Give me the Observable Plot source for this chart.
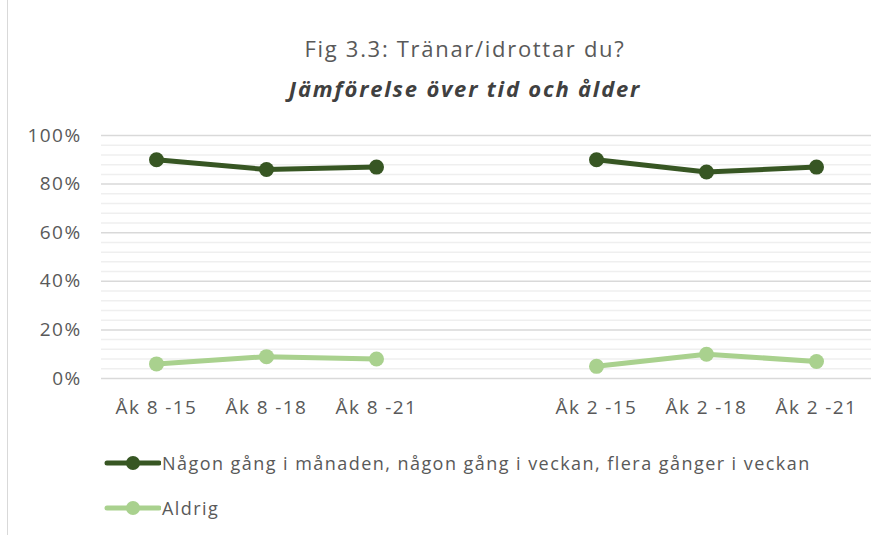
<!DOCTYPE html>
<html>
<head>
<meta charset="utf-8">
<script src="https://cdn.jsdelivr.net/npm/d3@7"></script>
<script src="https://cdn.jsdelivr.net/npm/@observablehq/plot@0.6"></script>
<style>
  html, body { margin: 0; padding: 0; background: #fff; }
  #wrap { position: relative; width: 890px; height: 535px; overflow: hidden; font-family: "Open Sans", Lato, sans-serif; color: #595959; }
  #frame { position: absolute; left: 7px; top: 0; width: 0; height: 535px; border-left: 1.5px solid #d9d9d9; }
  #title { position: absolute; left: 0; width: 930px; top: 33px; text-align: center; font-size: 22px; letter-spacing: 1.7px; line-height: 30px; color: #595959; }
  #subtitle { position: absolute; left: 0; width: 930px; top: 73px; text-align: center; font-size: 22px; letter-spacing: 1.8px; line-height: 30px; font-weight: bold; font-style: italic; color: #404040; }
  #chart { position: absolute; left: 0; top: 110px; }
  .leg { position: absolute; left: 104px; display: flex; align-items: center; font-size: 18px; letter-spacing: 1.45px; color: #595959; }
  .leg svg { margin-right: 1px; }
</style>
</head>
<body>
<div id="wrap">
  <div id="frame"></div>
  <div id="title"></div>
  <div id="subtitle"></div>
  <div id="chart"></div>
  <div id="legend"></div>
</div>
<script>
const titleText = "Fig 3.3: Tränar/idrottar du?";
const subtitleText = "Jämförelse över tid och ålder";
const categories = ["Åk 8 -15", "Åk 8 -18", "Åk 8 -21", " ", "Åk 2 -15", "Åk 2 -18", "Åk 2 -21"];
const seriesNames = ["Någon gång i månaden, någon gång i veckan, flera gånger i veckan", "Aldrig"];
const seriesColors = ["#375623", "#a9d18e"];
const activeValues = [90, 86, 87, null, 90, 85, 87];
const neverValues = [6, 9, 8, null, 5, 10, 7];
const yTicks = [0, 20, 40, 60, 80, 100];
const yMinorTicks = d3.range(0, 101, 4).filter(v => v % 20 !== 0);

document.getElementById("title").textContent = titleText;
document.getElementById("subtitle").textContent = subtitleText;

const data = [];
[activeValues, neverValues].forEach((vals, si) => {
  vals.forEach((v, i) => data.push({ series: seriesNames[si], cat: categories[i], value: v == null ? NaN : v }));
});
const pts = data.filter(d => !isNaN(d.value));

const plot = Plot.plot({
  width: 890,
  height: 310,
  marginLeft: 101,
  marginRight: 19,
  marginTop: 25,
  marginBottom: 42,
  style: { fontFamily: "'Open Sans', Lato, sans-serif", fontSize: "19px", letterSpacing: "1.4px", color: "#595959", background: "transparent" },
  x: { type: "band", domain: categories, padding: 0, label: null },
  y: { domain: [0, 100], label: null },
  color: { domain: seriesNames, range: seriesColors },
  marks: [
    Plot.ruleY(yMinorTicks, { stroke: "#efefef", strokeWidth: 1.5 }),
    Plot.ruleY(yTicks, { stroke: "#d9d9d9", strokeWidth: 1.5 }),
    Plot.line(data, { x: "cat", y: "value", z: "series", stroke: "series", strokeWidth: 5, curve: "linear" }),
    Plot.dot(pts, { x: "cat", y: "value", fill: "series", r: 7.5, stroke: "none" }),
    Plot.axisY({ ticks: yTicks, tickSize: 0, tickPadding: 20, tickFormat: d => d + "%", fill: "#595959", label: null }),
    Plot.axisX({ tickSize: 0, tickPadding: 22, fill: "#595959", label: null })
  ]
});
document.getElementById("chart").appendChild(plot);

const legend = document.getElementById("legend");
const legTops = [450, 495];
seriesNames.forEach((name, i) => {
  const div = document.createElement("div");
  div.className = "leg";
  div.style.top = legTops[i] + "px";
  div.innerHTML = `<svg width="57" height="26"><line x1="3" x2="55" y1="13" y2="13" stroke="${seriesColors[i]}" stroke-width="5" stroke-linecap="round"/><circle cx="29" cy="13" r="7" fill="${seriesColors[i]}"/></svg>`;
  const span = document.createElement("span");
  span.textContent = name;
  div.appendChild(span);
  legend.appendChild(div);
});
</script>
</body>
</html>
